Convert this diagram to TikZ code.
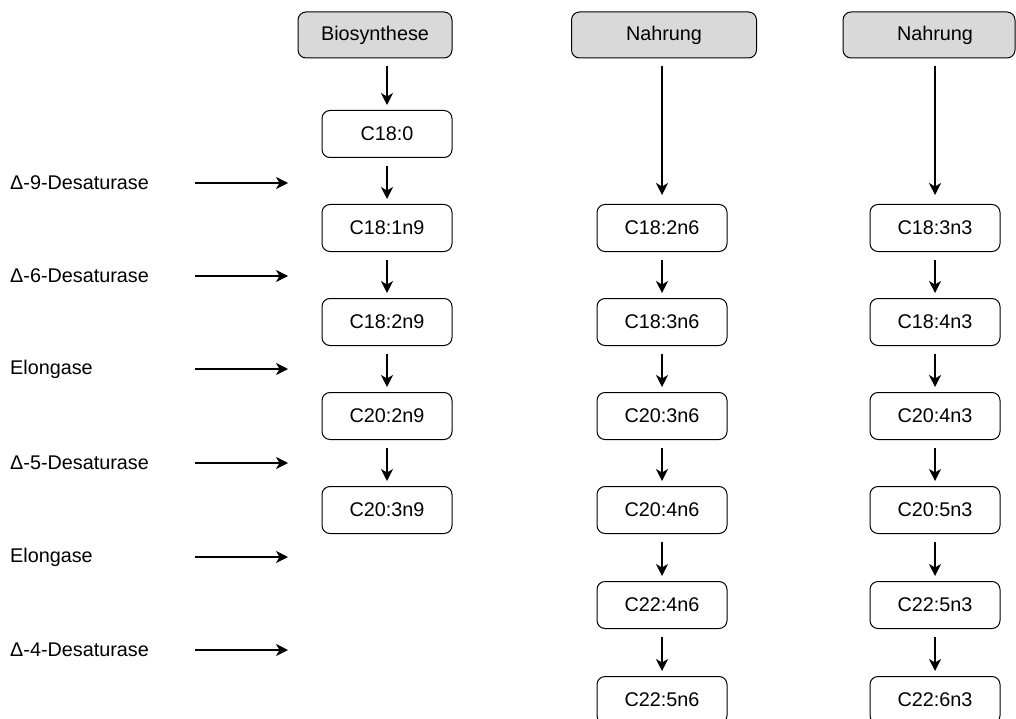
\documentclass[tikz,border=0pt]{standalone}
\usepackage{fontspec}
\setmainfont{Liberation Sans}
\usetikzlibrary{arrows.meta}
\begin{document}
\begin{tikzpicture}[x=1pt,y=-1pt,
  every node/.style={font=\fontsize{19.8}{23}\selectfont},
  head/.style={draw, line width=1pt, rounded corners=8pt, fill=black!15, minimum height=46pt, inner sep=0pt},
  fa/.style={draw, line width=1pt, rounded corners=8pt, fill=white, minimum width=130pt, minimum height=47pt, inner sep=0pt},
  lbl/.style={anchor=west, inner sep=0pt},
  arr/.style={line width=1.2pt, -{Stealth[length=12pt,width=12pt,inset=3.5pt]}},
  down/.style={arr, shorten <=8pt, shorten >=5pt}]
\useasboundingbox (0,0) rectangle (1016,719);
% headers
\node[head, minimum width=154pt] (bio) at (375,35) {Biosynthese};
\node[head, minimum width=185pt] (nah1) at (664,35) {Nahrung};
\node[head, minimum width=172pt, text width=172pt, align=center] (nah2) at (929,35) {\hspace*{12pt}Nahrung};
% column 1
\node[fa] (c180) at (387,134) {C18:0};
\node[fa] (c181n9) at (387,228) {C18:1n9};
\node[fa] (c182n9) at (387,322) {C18:2n9};
\node[fa] (c202n9) at (387,416) {C20:2n9};
\node[fa] (c203n9) at (387,510) {C20:3n9};
% column 2
\node[fa] (c182n6) at (662,228) {C18:2n6};
\node[fa] (c183n6) at (662,322) {C18:3n6};
\node[fa] (c203n6) at (662,416) {C20:3n6};
\node[fa] (c204n6) at (662,510) {C20:4n6};
\node[fa] (c224n6) at (662,605) {C22:4n6};
\node[fa] (c225n6) at (662,700) {C22:5n6};
% column 3
\node[fa] (c183n3) at (935,228) {C18:3n3};
\node[fa] (c184n3) at (935,322) {C18:4n3};
\node[fa] (c204n3) at (935,416) {C20:4n3};
\node[fa] (c205n3) at (935,510) {C20:5n3};
\node[fa] (c225n3) at (935,605) {C22:5n3};
\node[fa] (c226n3) at (935,700) {C22:6n3};
% vertical arrows
\draw[down] (c180.north |- bio.south) -- (c180);
\draw[down] (c180) -- (c181n9);
\draw[down] (c181n9) -- (c182n9);
\draw[down] (c182n9) -- (c202n9);
\draw[down] (c202n9) -- (c203n9);
\draw[down, shorten >=9pt] (c182n6.north |- nah1.south) -- (c182n6);
\draw[down] (c182n6) -- (c183n6);
\draw[down] (c183n6) -- (c203n6);
\draw[down] (c203n6) -- (c204n6);
\draw[down] (c204n6) -- (c224n6);
\draw[down] (c224n6) -- (c225n6);
\draw[down, shorten >=9pt] (c183n3.north |- nah2.south) -- (c183n3);
\draw[down] (c183n3) -- (c184n3);
\draw[down] (c184n3) -- (c204n3);
\draw[down] (c204n3) -- (c205n3);
\draw[down] (c205n3) -- (c225n3);
\draw[down] (c225n3) -- (c226n3);
% enzyme labels
\foreach \y/\t/\n in {183/{Δ-9-Desaturase}/e1, 276/{Δ-6-Desaturase}/e2, 369/{Elongase}/e3,
                      463/{Δ-5-Desaturase}/e4, 557/{Elongase}/e5, 650/{Δ-4-Desaturase}/e6}{
  \node[lbl] (\n) at (10,\y) {\t};
  \coordinate (\n s) at (195,\y);
  \coordinate (\n e) at (288,\y);
  \draw[arr] (\n s) -- (\n e);
}
\end{tikzpicture}
\end{document}
